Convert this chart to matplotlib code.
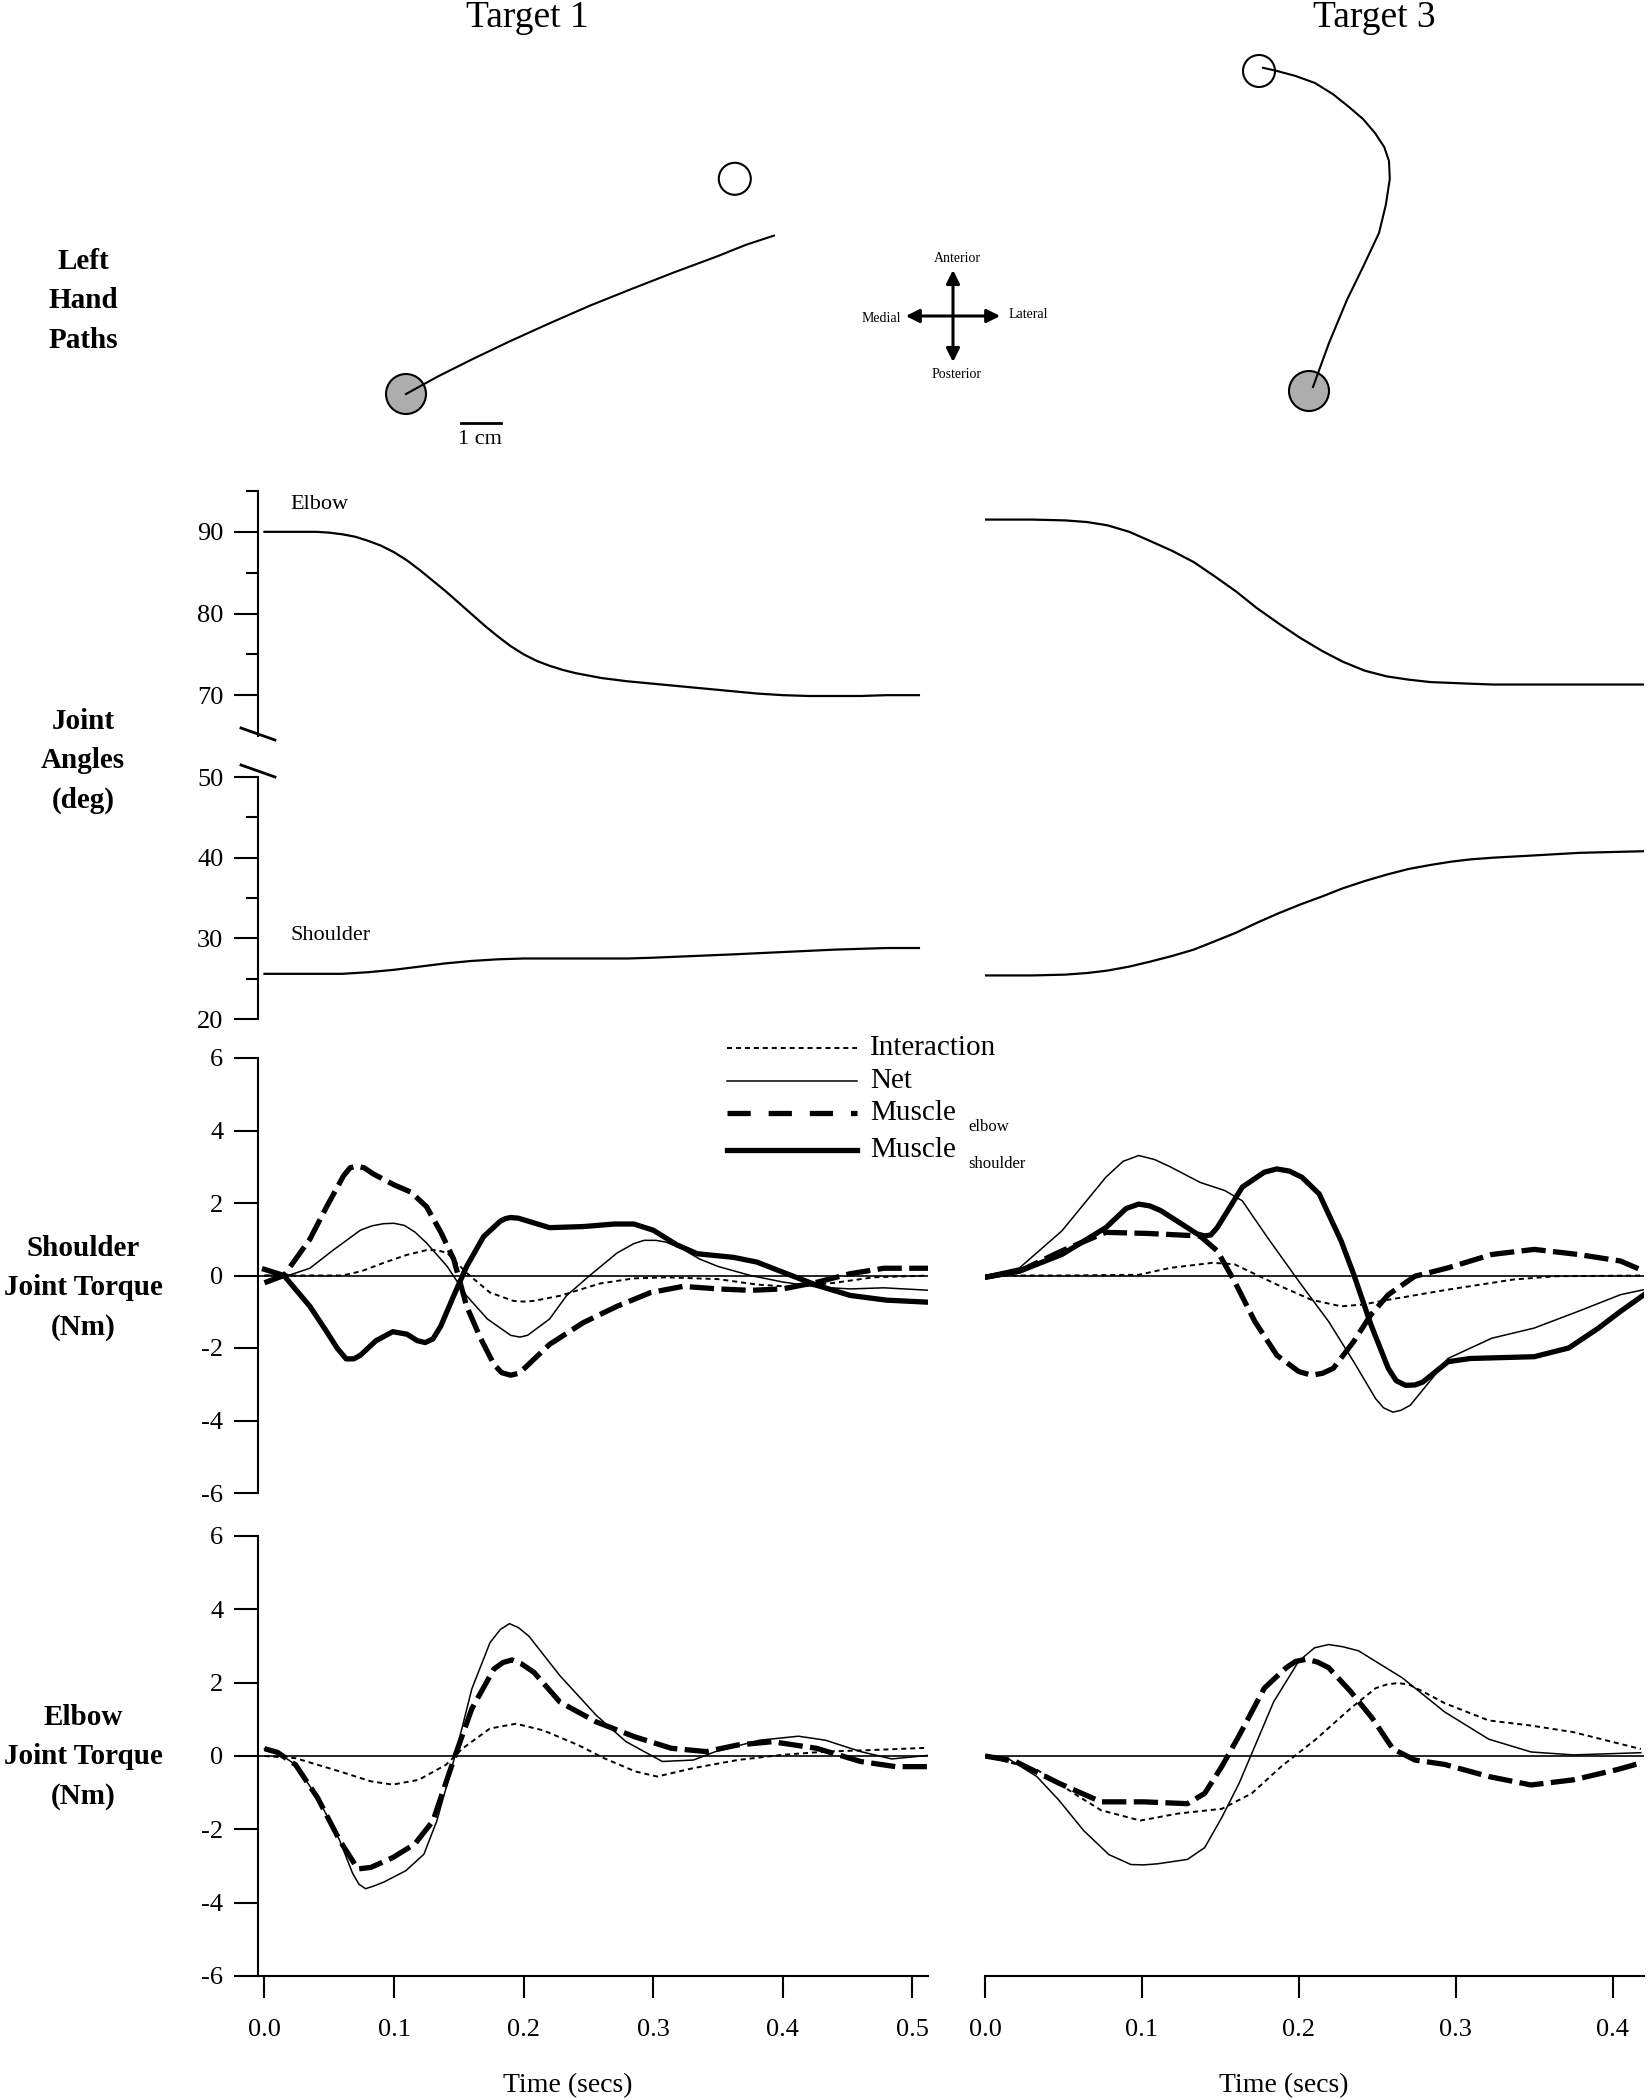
import numpy as np
import matplotlib
matplotlib.use('Agg')
import matplotlib.pyplot as plt
from matplotlib.lines import Line2D
from matplotlib.patches import Circle

plt.rcParams['font.family'] = ['Liberation Serif', 'DejaVu Serif']
plt.rcParams['axes.unicode_minus'] = False

W, H = 1651, 2100

# ---------------- hand paths (cm, relative to start position) ----------------
t1_path_x = [0, 0.8, 1.7, 2.6, 3.55, 4.6, 5.65, 6.7, 7.75, 8.5, 9.2]
t1_path_y = [0, 0.44, 0.89, 1.32, 1.75, 2.21, 2.63, 3.04, 3.43, 3.73, 3.96]
t1_target = (8.22, 5.38)
t3_path_x = [0.1, 0.5, 0.95, 1.35, 1.75, 1.92, 2.02, 2.0, 1.88, 1.65, 1.35, 1.0, 0.6, 0.15, -0.35, -0.8, -1.15]
t3_path_y = [0.1, 1.2, 2.28, 3.1, 3.95, 4.65, 5.3, 5.75, 6.1, 6.45, 6.8, 7.1, 7.42, 7.7, 7.88, 8.0, 8.08]
t3_target = (-1.25, 8.0)

# ---------------- joint angles (deg) ----------------
t1_elb_t = [0, 0.02, 0.04, 0.05, 0.06, 0.07, 0.08, 0.09, 0.10, 0.11, 0.12, 0.13, 0.14, 0.15, 0.16,
            0.17, 0.18, 0.19, 0.20, 0.21, 0.22, 0.23, 0.24, 0.26, 0.28, 0.30, 0.32, 0.34, 0.36,
            0.38, 0.40, 0.42, 0.44, 0.46, 0.48, 0.505]
t1_elb_ang = [90.0, 90.0, 90.0, 89.9, 89.7, 89.4, 88.9, 88.3, 87.5, 86.5, 85.3, 84.0, 82.7, 81.3,
              79.9, 78.5, 77.2, 76.0, 75.0, 74.2, 73.6, 73.1, 72.7, 72.1, 71.7, 71.4, 71.1, 70.8,
              70.5, 70.2, 70.0, 69.9, 69.9, 69.9, 70.0, 70.0]
t1_sh_t = [0, 0.04, 0.06, 0.08, 0.10, 0.12, 0.14, 0.16, 0.18, 0.20, 0.22, 0.25, 0.28, 0.30,
           0.33, 0.36, 0.40, 0.44, 0.48, 0.505]
t1_sh_ang = [25.6, 25.6, 25.6, 25.8, 26.1, 26.5, 26.9, 27.2, 27.4, 27.5, 27.5, 27.5, 27.5, 27.6,
             27.8, 28.0, 28.3, 28.6, 28.8, 28.8]
t3_ang_t = [0, 0.03, 0.051, 0.065, 0.078, 0.092, 0.105, 0.119, 0.133, 0.146, 0.16, 0.173, 0.187,
            0.201, 0.215, 0.228, 0.242, 0.256, 0.27, 0.284, 0.297, 0.31, 0.324, 0.352, 0.379, 0.42]
t3_elb_ang = [91.5, 91.5, 91.4, 91.2, 90.8, 90.0, 88.9, 87.7, 86.3, 84.6, 82.7, 80.7, 78.8,
              77.0, 75.4, 74.1, 73.0, 72.3, 71.9, 71.6, 71.5, 71.4, 71.3, 71.3, 71.3, 71.3]
t3_sh_ang = [25.4, 25.4, 25.5, 25.7, 26.0, 26.5, 27.1, 27.8, 28.6, 29.6, 30.7, 31.9, 33.1,
             34.2, 35.2, 36.2, 37.1, 37.9, 38.6, 39.1, 39.5, 39.8, 40.0, 40.3, 40.6, 40.8]

# ---------------- shoulder joint torque (Nm), target 1 ----------------
s1_int_t = [0, 0.03, 0.06, 0.075, 0.092, 0.11, 0.125, 0.133, 0.141, 0.156, 0.174, 0.192, 0.2,
            0.208, 0.228, 0.259, 0.285, 0.31, 0.35, 0.38, 0.41, 0.44, 0.47, 0.514]
s1_int = [0, 0, 0, 0.12, 0.35, 0.57, 0.7, 0.7, 0.62, 0.07, -0.47, -0.7, -0.72,
          -0.7, -0.56, -0.22, -0.08, -0.05, -0.1, -0.25, -0.32, -0.2, -0.05, 0.0]
s1_net_t = [0, 0.02, 0.035, 0.053, 0.074, 0.083, 0.092, 0.1, 0.108, 0.116, 0.125, 0.141, 0.156,
            0.172, 0.19, 0.197, 0.203, 0.22, 0.233, 0.251, 0.272, 0.285, 0.293, 0.302, 0.31,
            0.323, 0.336, 0.35, 0.375, 0.40, 0.427, 0.452, 0.478, 0.514]
s1_net = [0, 0.02, 0.2, 0.7, 1.25, 1.37, 1.43, 1.44, 1.38, 1.2, 0.9, 0.25, -0.56,
          -1.2, -1.65, -1.7, -1.65, -1.2, -0.56, 0.0, 0.62, 0.88, 0.97, 0.97, 0.92,
          0.72, 0.45, 0.25, 0.0, -0.18, -0.32, -0.37, -0.34, -0.41]
s1_me_t = [0, 0.015, 0.035, 0.048, 0.061, 0.066, 0.071, 0.077, 0.084, 0.10, 0.113, 0.125, 0.136,
           0.146, 0.156, 0.167, 0.177, 0.183, 0.19, 0.196, 0.20, 0.22, 0.246, 0.272, 0.298,
           0.323, 0.35, 0.375, 0.40, 0.427, 0.452, 0.478, 0.514]
s1_me = [-0.2, 0.0, 1.0, 1.9, 2.75, 2.97, 3.02, 2.97, 2.8, 2.5, 2.3, 1.9, 1.2,
         0.45, -0.85, -1.75, -2.45, -2.68, -2.75, -2.7, -2.58, -1.9, -1.3, -0.85, -0.47,
         -0.3, -0.37, -0.41, -0.37, -0.18, 0.05, 0.2, 0.2]
s1_ms_t = [0, 0.015, 0.035, 0.048, 0.056, 0.063, 0.069, 0.074, 0.086, 0.099, 0.11, 0.118, 0.124,
           0.13, 0.136, 0.146, 0.156, 0.169, 0.182, 0.186, 0.19, 0.196, 0.208, 0.22, 0.246,
           0.27, 0.285, 0.30, 0.318, 0.334, 0.362, 0.38, 0.403, 0.427, 0.452, 0.48, 0.514]
s1_ms = [0.17, 0.0, -0.85, -1.55, -2.0, -2.3, -2.3, -2.2, -1.8, -1.55, -1.62, -1.8, -1.85,
         -1.75, -1.4, -0.56, 0.25, 1.07, 1.5, 1.57, 1.6, 1.58, 1.45, 1.32, 1.35,
         1.42, 1.42, 1.25, 0.85, 0.6, 0.5, 0.37, 0.05, -0.28, -0.55, -0.68, -0.74]

# ---------------- shoulder joint torque (Nm), target 3 ----------------
s3_int_t = [0, 0.05, 0.098, 0.118, 0.145, 0.159, 0.186, 0.208, 0.227, 0.241, 0.257, 0.295,
            0.337, 0.364, 0.42]
s3_int = [0, 0, 0.02, 0.21, 0.35, 0.31, -0.25, -0.67, -0.85, -0.8, -0.67, -0.39,
          -0.11, -0.02, 0.0]
s3_net_t = [0, 0.022, 0.049, 0.077, 0.088, 0.098, 0.108, 0.118, 0.137, 0.153, 0.164, 0.18, 0.2,
            0.219, 0.235, 0.249, 0.254, 0.26, 0.265, 0.271, 0.285, 0.295, 0.323, 0.35, 0.378,
            0.405, 0.42]
s3_net = [0, 0.21, 1.23, 2.71, 3.15, 3.31, 3.2, 3.0, 2.57, 2.34, 2.06, 1.05, -0.16,
          -1.27, -2.38, -3.4, -3.65, -3.77, -3.72, -3.58, -2.84, -2.29, -1.73, -1.45, -0.99,
          -0.53, -0.39]
s3_me_t = [0, 0.022, 0.049, 0.077, 0.104, 0.137, 0.148, 0.159, 0.172, 0.186, 0.2, 0.208, 0.215,
           0.222, 0.235, 0.246, 0.257, 0.274, 0.295, 0.323, 0.35, 0.378, 0.405, 0.42]
s3_me = [-0.05, 0.12, 0.68, 1.19, 1.16, 1.09, 0.68, -0.16, -1.27, -2.2, -2.65, -2.75, -2.7,
         -2.56, -1.82, -1.08, -0.53, -0.02, 0.21, 0.58, 0.72, 0.58, 0.4, 0.12]
s3_ms_t = [0, 0.022, 0.049, 0.077, 0.09, 0.098, 0.105, 0.112, 0.129, 0.135, 0.14, 0.144, 0.148,
           0.164, 0.178, 0.186, 0.194, 0.202, 0.213, 0.227, 0.235, 0.246, 0.257, 0.262, 0.268,
           0.274, 0.279, 0.295, 0.309, 0.35, 0.372, 0.391, 0.405, 0.42]
s3_ms = [-0.05, 0.12, 0.58, 1.32, 1.85, 1.97, 1.92, 1.79, 1.32, 1.15, 1.09, 1.12, 1.32,
         2.44, 2.85, 2.94, 2.88, 2.71, 2.25, 0.95, 0.03, -1.36, -2.56, -2.9, -3.03,
         -3.02, -2.94, -2.38, -2.29, -2.24, -2.0, -1.45, -0.99, -0.53]

# ---------------- elbow joint torque (Nm), target 1 ----------------
e1_int_t = [0, 0.024, 0.058, 0.082, 0.099, 0.119, 0.14, 0.153, 0.174, 0.194, 0.215, 0.242, 0.262,
            0.286, 0.303, 0.331, 0.365, 0.399, 0.433, 0.467, 0.516]
e1_int = [0, -0.06, -0.42, -0.69, -0.78, -0.65, -0.24, 0.21, 0.75, 0.88, 0.7, 0.3, -0.06,
          -0.42, -0.56, -0.33, -0.11, 0.03, 0.12, 0.16, 0.23]
e1_net_t = [0, 0.01, 0.024, 0.041, 0.058, 0.068, 0.073, 0.078, 0.084, 0.092, 0.109, 0.123, 0.133,
            0.147, 0.16, 0.174, 0.182, 0.189, 0.196, 0.204, 0.228, 0.256, 0.279, 0.307, 0.331,
            0.348, 0.382, 0.412, 0.433, 0.46, 0.484, 0.516]
e1_net = [0.2, 0.1, -0.24, -1.14, -2.3, -3.2, -3.5, -3.62, -3.55, -3.44, -3.13, -2.68, -1.77,
          0.0, 1.83, 3.09, 3.45, 3.61, 3.5, 3.27, 2.19, 1.11, 0.39, -0.15, -0.11,
          0.12, 0.43, 0.54, 0.43, 0.12, -0.08, 0.03]
e1_me_t = [0, 0.01, 0.024, 0.041, 0.058, 0.072, 0.082, 0.099, 0.116, 0.13, 0.147, 0.16, 0.177,
           0.184, 0.191, 0.198, 0.208, 0.228, 0.256, 0.286, 0.314, 0.341, 0.365, 0.392, 0.426,
           0.46, 0.487, 0.516]
e1_me = [0.2, 0.1, -0.24, -1.14, -2.3, -3.08, -3.04, -2.77, -2.4, -1.77, 0.0, 1.29, 2.37,
         2.55, 2.62, 2.52, 2.28, 1.47, 0.93, 0.52, 0.21, 0.12, 0.3, 0.39, 0.21,
         -0.15, -0.29, -0.29]

# ---------------- elbow joint torque (Nm), target 3 ----------------
e3_int_t = [0, 0.033, 0.06, 0.074, 0.099, 0.123, 0.151, 0.17, 0.189, 0.211, 0.233, 0.249, 0.256,
            0.263, 0.27, 0.279, 0.293, 0.321, 0.348, 0.375, 0.418]
e3_int = [0, -0.37, -1.11, -1.48, -1.76, -1.57, -1.44, -1.02, -0.28, 0.46, 1.3, 1.85, 1.95,
          1.99, 1.95, 1.76, 1.44, 0.97, 0.83, 0.65, 0.19]
e3_net_t = [0, 0.014, 0.033, 0.047, 0.063, 0.079, 0.093, 0.101, 0.11, 0.129, 0.14, 0.151, 0.162,
            0.173, 0.184, 0.2, 0.21, 0.219, 0.228, 0.238, 0.266, 0.293, 0.321, 0.348, 0.375, 0.418]
e3_net = [0, -0.05, -0.56, -1.2, -2.04, -2.69, -2.96, -2.97, -2.94, -2.82, -2.5, -1.67, -0.74,
          0.37, 1.48, 2.59, 2.95, 3.04, 2.98, 2.87, 2.13, 1.2, 0.46, 0.11, 0.03, 0.09]
e3_me_t = [0, 0.019, 0.047, 0.074, 0.101, 0.129, 0.14, 0.151, 0.162, 0.178, 0.192, 0.198, 0.205,
           0.212, 0.219, 0.233, 0.247, 0.26, 0.274, 0.293, 0.321, 0.348, 0.375, 0.403, 0.418]
e3_me = [0, -0.14, -0.74, -1.25, -1.25, -1.3, -1.02, -0.28, 0.56, 1.85, 2.41, 2.58, 2.64,
         2.56, 2.41, 1.76, 1.02, 0.19, -0.11, -0.23, -0.56, -0.79, -0.65, -0.37, -0.19]

x1_ticks = [0.0, 0.1, 0.2, 0.3, 0.4, 0.5]
x3_ticks = [0.0, 0.1, 0.2, 0.3, 0.4]
torque_ticks = [-6, -4, -2, 0, 2, 4, 6]

styles = {
    'int': dict(color='k', lw=1.4, ls=(0, (2.6, 2.0)), dash_capstyle='butt'),
    'net': dict(color='k', lw=1.1, ls='-'),
    'me': dict(color='k', lw=3.8, ls=(0, (4.6, 1.4)), dash_capstyle='butt'),
    'ms': dict(color='k', lw=3.8, ls='-'),
}

fig = plt.figure(figsize=(W / 100, H / 100), dpi=100)


def fx(px):
    return px / W


def fy(py):
    return 1 - py / H


def add_ax(x0, x1, y0, y1):
    ax = fig.add_axes([fx(x0), fy(y1), (x1 - x0) / W, (y1 - y0) / H])
    ax.patch.set_visible(False)
    for s in ax.spines.values():
        s.set_visible(False)
    ax.set_xticks([])
    ax.set_yticks([])
    return ax


L0, L1 = 258, 928
R0, R1 = 985, 1644
xlim1 = (-0.005, 0.512)
xlim3 = (0.0, 0.42)

# ---------------- hand paths panel ----------------
ax0 = add_ax(0, W, 0, 460)
ax0.set_xlim(0, W / 40)
ax0.set_ylim(0, 460 / 40)
o1 = (10.15, 1.65)
o3 = (32.725, 1.725)
ax0.add_patch(Circle(o1, 0.5, facecolor='0.68', edgecolor='k', lw=1.5))
ax0.add_patch(Circle((o1[0] + t1_target[0], o1[1] + t1_target[1]), 0.4,
                     facecolor='white', edgecolor='k', lw=1.5))
ax0.plot(np.array(t1_path_x) + o1[0], np.array(t1_path_y) + o1[1], color='k', lw=1.5)
ax0.add_patch(Circle(o3, 0.5, facecolor='0.68', edgecolor='k', lw=1.5))
ax0.add_patch(Circle((o3[0] + t3_target[0], o3[1] + t3_target[1]), 0.4,
                     facecolor='white', edgecolor='k', lw=1.5))
ax0.plot(np.array(t3_path_x) + o3[0], np.array(t3_path_y) + o3[1], color='k', lw=1.5)
# scale bar
ax0.plot([11.525, 12.525], [0.925, 0.925], color='k', lw=2)
ax0.text(12.0, 0.5, '1 cm', ha='center', va='center', fontsize=16)
# compass
cx, cy = 23.825, 3.6
arr = dict(arrowstyle='<|-|>', color='k', lw=2.2, mutation_scale=20, shrinkA=0, shrinkB=0)
ax0.annotate('', xy=(cx - 1.18, cy), xytext=(cx + 1.18, cy), arrowprops=arr)
ax0.annotate('', xy=(cx, cy - 1.15), xytext=(cx, cy + 1.15), arrowprops=arr)
ax0.text(cx + 0.1, cy + 1.45, 'Anterior', ha='center', va='center', fontsize=10)
ax0.text(cx + 0.1, cy - 1.45, 'Posterior', ha='center', va='center', fontsize=10)
ax0.text(cx - 1.3, cy - 0.07, 'Medial', ha='right', va='center', fontsize=10)
ax0.text(cx + 1.4, cy + 0.03, 'Lateral', ha='left', va='center', fontsize=10)

# column titles and row labels
fig.text(fx(527), fy(18), 'Target 1', ha='center', va='center', fontsize=27)
fig.text(fx(1374), fy(18), 'Target 3', ha='center', va='center', fontsize=27)
row_kw = dict(ha='center', va='center', fontsize=21, fontweight='bold', linespacing=1.6)
fig.text(fx(83), fy(301), 'Left\nHand\nPaths', **row_kw)
fig.text(fx(83), fy(761), 'Joint\nAngles\n(deg)', **row_kw)
fig.text(fx(83), fy(1288), 'Shoulder\nJoint Torque\n(Nm)', **row_kw)
fig.text(fx(83), fy(1757), 'Elbow\nJoint Torque\n(Nm)', **row_kw)

ytick_kw = dict(axis='y', direction='out', length=17, width=1.5, pad=8, labelsize=19)

# ---------------- joint angles ----------------
ax_up1 = add_ax(L0, L1, 491, 736)
ax_up1.set_xlim(xlim1)
ax_up1.set_ylim(65, 95)
ax_up1.spines['left'].set_visible(True)
ax_up1.spines['left'].set_linewidth(1.5)
ax_up1.set_yticks([70, 80, 90])
ax_up1.set_yticks([75, 85, 95], minor=True)
ax_up1.tick_params(**ytick_kw)
ax_up1.tick_params(axis='y', which='minor', direction='out', length=9, width=1.5)
ax_up1.plot(t1_elb_t, t1_elb_ang, color='k', lw=1.6)
ax_up1.text(0.02, 93.3, 'Elbow', fontsize=16, va='center')

ax_lo1 = add_ax(L0, L1, 777, 1019)
ax_lo1.set_xlim(xlim1)
ax_lo1.set_ylim(20, 50)
ax_lo1.spines['left'].set_visible(True)
ax_lo1.spines['left'].set_linewidth(1.5)
ax_lo1.set_yticks([20, 30, 40, 50])
ax_lo1.set_yticks([25, 35, 45], minor=True)
ax_lo1.tick_params(**ytick_kw)
ax_lo1.tick_params(axis='y', which='minor', direction='out', length=9, width=1.5)
ax_lo1.plot(t1_sh_t, t1_sh_ang, color='k', lw=1.6)
ax_lo1.text(0.02, 30.3, 'Shoulder', fontsize=16, va='center')

# axis break marks
fig.add_artist(Line2D([fx(241), fx(275)], [fy(728), fy(740)], color='k', lw=2))
fig.add_artist(Line2D([fx(241), fx(275)], [fy(765), fy(777)], color='k', lw=2))

ax_up3 = add_ax(R0, R1, 491, 736)
ax_up3.set_xlim(xlim3)
ax_up3.set_ylim(65, 95)
ax_up3.plot(t3_ang_t, t3_elb_ang, color='k', lw=1.6)
ax_lo3 = add_ax(R0, R1, 777, 1019)
ax_lo3.set_xlim(xlim3)
ax_lo3.set_ylim(20, 50)
ax_lo3.plot(t3_ang_t, t3_sh_ang, color='k', lw=1.6)


# ---------------- torques ----------------
def torque_panel(x0, x1, y0, y1, xlim, series, yaxis, xticks):
    ax = add_ax(x0, x1, y0, y1)
    ax.set_xlim(xlim)
    ax.set_ylim(-6, 6)
    ax.axhline(0, color='k', lw=1.2, zorder=1)
    for key, t, v in series:
        ax.plot(t, v, **styles[key], zorder=2)
    if yaxis:
        ax.spines['left'].set_visible(True)
        ax.spines['left'].set_linewidth(1.5)
        ax.set_yticks(torque_ticks)
        ax.set_yticklabels([str(v) for v in torque_ticks])
        ax.tick_params(**ytick_kw)
    if xticks is not None:
        ax.spines['bottom'].set_visible(True)
        ax.spines['bottom'].set_linewidth(1.5)
        ax.set_xticks(xticks)
        ax.set_xticklabels([f'{v:.1f}' for v in xticks])
        ax.tick_params(axis='x', direction='out', length=16, width=1.5, pad=15, labelsize=19)
    return ax


torque_panel(L0, L1, 1058, 1493, xlim1,
             [('int', s1_int_t, s1_int), ('net', s1_net_t, s1_net),
              ('me', s1_me_t, s1_me), ('ms', s1_ms_t, s1_ms)], True, None)
torque_panel(R0, R1, 1058, 1493, xlim3,
             [('int', s3_int_t, s3_int), ('net', s3_net_t, s3_net),
              ('me', s3_me_t, s3_me), ('ms', s3_ms_t, s3_ms)], False, None)
torque_panel(L0, L1, 1536, 1976, xlim1,
             [('int', e1_int_t, e1_int), ('net', e1_net_t, e1_net),
              ('me', e1_me_t, e1_me)], True, x1_ticks)
torque_panel(R0, R1, 1536, 1976, xlim3,
             [('int', e3_int_t, e3_int), ('net', e3_net_t, e3_net),
              ('me', e3_me_t, e3_me)], False, x3_ticks)

fig.text(fx(568), fy(2086), 'Time (secs)', ha='center', va='center', fontsize=20)
fig.text(fx(1284), fy(2086), 'Time (secs)', ha='center', va='center', fontsize=20)

# ---------------- legend ----------------
leg_rows = [('int', 1048, 'Interaction', None),
            ('net', 1081, 'Net', None),
            ('me', 1113, 'Muscle', 'elbow'),
            ('ms', 1150, 'Muscle', 'shoulder')]
for key, py, label, sub in leg_rows:
    st = dict(styles[key])
    if key == 'me':
        st['ls'] = (0, (4.4, 3.4))
    fig.add_artist(Line2D([fx(727), fx(857)], [fy(py), fy(py)], **st))
    fig.text(fx(870), fy(py), label, ha='left', va='center', fontsize=21)
    if sub:
        fig.text(fx(968), fy(py + 14), sub, ha='left', va='center', fontsize=12)

fig.savefig('out.png', dpi=100)
